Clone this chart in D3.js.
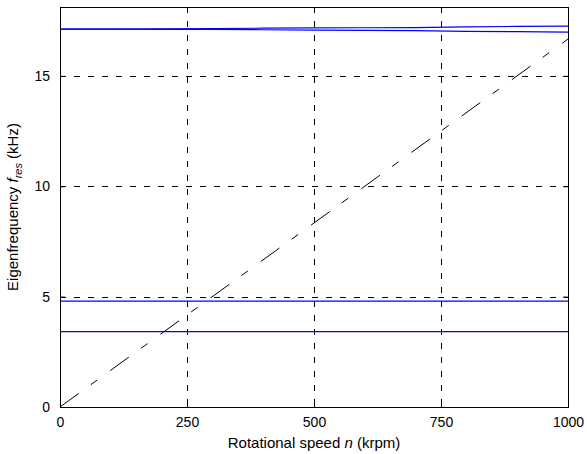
<!DOCTYPE html>
<html>
<head>
<meta charset="utf-8">
<script src="https://cdn.jsdelivr.net/npm/d3@7"></script>
<style>
  html, body { margin: 0; padding: 0; background: #fff; }
  svg { display: block; font-family: "Liberation Sans", Arial, sans-serif; }
</style>
</head>
<body>
<svg id="chart" width="587" height="454"></svg>
<script>
// ---- data ----
const speeds = [0, 100, 200, 300, 400, 500, 600, 700, 800, 900, 1000];          // krpm
const mode1 = [3.41, 3.41, 3.41, 3.41, 3.41, 3.41, 3.41, 3.41, 3.41, 3.41, 3.41]; // kHz
const mode2 = [4.80, 4.80, 4.80, 4.80, 4.80, 4.80, 4.80, 4.80, 4.80, 4.80, 4.80];
const mode3 = [17.12, 17.12, 17.13, 17.14, 17.16, 17.17, 17.18, 17.19, 17.22, 17.24, 17.25];
const mode4 = [17.12, 17.12, 17.11, 17.10, 17.09, 17.07, 17.06, 17.05, 17.02, 17.00, 16.98];
const excitationSpeeds = [0, 1000];
const excitationFreq = [0, 16.67];
const xTicks = [0, 250, 500, 750, 1000];
const yTicks = [0, 5, 10, 15];
const xDomain = [0, 1000];
const yDomain = [0, 18.12];

// ---- layout ----
const svg = d3.select("#chart");
const W = 587, H = 454;
const m = { left: 60, right: 19, top: 7, bottom: 47 };
const x = d3.scaleLinear().domain(xDomain).range([m.left, W - m.right]);
const y = d3.scaleLinear().domain(yDomain).range([H - m.bottom, m.top]);
const fs = 14, lfs = 15;

// grid
const grid = svg.append("g").attr("stroke", "#000").attr("stroke-width", 1)
  .attr("stroke-dasharray", "6,8").attr("shape-rendering", "crispEdges");
grid.selectAll(".gx").data(xTicks.filter(t => t > xDomain[0] && t < xDomain[1])).enter()
  .append("line").attr("x1", d => Math.round(x(d)) + 0.5).attr("x2", d => Math.round(x(d)) + 0.5)
  .attr("y1", y(yDomain[1])).attr("y2", y(0));
grid.selectAll(".gy").data(yTicks.filter(t => t > yDomain[0] && t < yDomain[1])).enter()
  .append("line").attr("y1", d => Math.round(y(d)) + 0.5).attr("y2", d => Math.round(y(d)) + 0.5)
  .attr("x1", x(0)).attr("x2", x(1000));

// excitation line (dash-dot)
const clip = svg.append("clipPath").attr("id", "clip").append("rect")
  .attr("x", m.left).attr("y", m.top).attr("width", W - m.left - m.right).attr("height", H - m.top - m.bottom);
const plot = svg.append("g").attr("clip-path", "url(#clip)");
const exc = excitationSpeeds.map((s, i) => [s, excitationFreq[i]]);
plot.append("path").datum(exc)
  .attr("d", d3.line().x(d => x(d[0])).y(d => y(d[1])))
  .attr("fill", "none").attr("stroke", "#000").attr("stroke-width", 1)
  .attr("stroke-dasharray", "23,15,8,16");

// modes
const line = d3.line().x((d, i) => x(speeds[i])).y(d => y(d));
[mode1, mode2, mode3, mode4].forEach(s => {
  plot.append("path").datum(s).attr("d", line)
    .attr("fill", "none").attr("stroke", "#0000ff").attr("stroke-width", 1.2);
});

// axes (ticks inward)
const tk = 5;
const axB = svg.append("g").attr("transform", `translate(0,${y(0)})`)
  .call(d3.axisBottom(x).tickValues(xTicks).tickSize(-tk).tickPadding(tk + 5).tickFormat(d3.format("d")));
const axT = svg.append("g").attr("transform", `translate(0,${y(yDomain[1])})`)
  .call(d3.axisTop(x).tickValues(xTicks).tickSize(-tk).tickFormat(""));
const axL = svg.append("g").attr("transform", `translate(${x(0)},0)`)
  .call(d3.axisLeft(y).tickValues(yTicks).tickSize(-tk).tickPadding(tk + 5).tickFormat(d3.format("d")));
const axR = svg.append("g").attr("transform", `translate(${x(1000)},0)`)
  .call(d3.axisRight(y).tickValues(yTicks).tickSize(-tk).tickFormat(""));
[axB, axT, axL, axR].forEach(a => {
  a.select(".domain").remove();
  a.selectAll("line").attr("stroke", "#000");
  a.selectAll("text").attr("fill", "#000").style("font-size", fs + "px").style("font-family", "'Liberation Sans', Arial, sans-serif");
});

// box
svg.append("rect").attr("x", x(0)).attr("y", y(yDomain[1]))
  .attr("width", x(1000) - x(0)).attr("height", y(0) - y(yDomain[1]))
  .attr("fill", "none").attr("stroke", "#000").attr("stroke-width", 1).attr("shape-rendering", "crispEdges");

// x label
const xl = svg.append("text").attr("x", (x(0) + x(1000)) / 2).attr("y", 448)
  .attr("text-anchor", "middle").style("font-size", lfs + "px").attr("fill", "#000");
xl.append("tspan").text("Rotational speed ");
xl.append("tspan").attr("font-style", "italic").text("n");
xl.append("tspan").text(" (krpm)");

// y label
const yl = svg.append("text").attr("transform", `translate(18,${(y(0) + y(yDomain[1])) / 2}) rotate(-90)`)
  .attr("text-anchor", "middle").style("font-size", lfs + "px").attr("fill", "#000");
yl.append("tspan").text("Eigenfrequency ");
yl.append("tspan").attr("font-style", "italic").text("f");
yl.append("tspan").attr("font-style", "italic").attr("dy", 4).style("font-size", "11px").text("res");
yl.append("tspan").attr("dy", -4).text(" (kHz)");
</script>
</body>
</html>
